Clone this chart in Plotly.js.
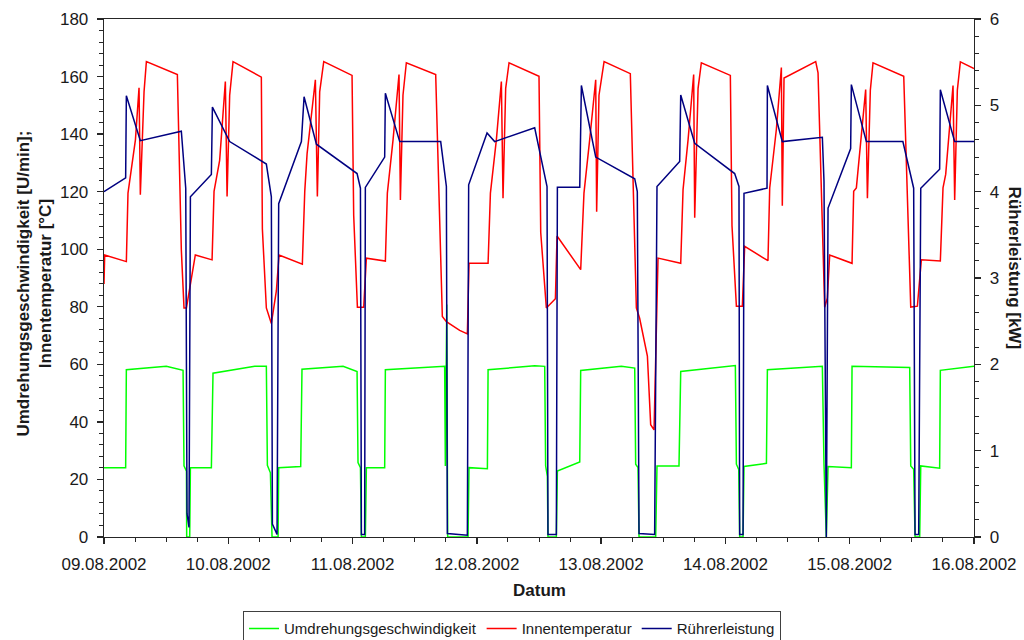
<!DOCTYPE html>
<html>
<head>
<meta charset="utf-8">
<script src="https://cdn.plot.ly/plotly-3.0.1.min.js"></script>
<style>html,body{margin:0;padding:0;background:#fff;}#chart{width:1024px;height:640px;}</style>
</head>
<body>
<div id="chart"></div>
<script>
// Umdrehungsgeschwindigkeit [U/min]
const zeitDrehzahl = [
"2002-08-09 00:00","2002-08-09 04:11","2002-08-09 04:19","2002-08-09 12:02","2002-08-09 15:16","2002-08-09 15:27","2002-08-09 15:55","2002-08-09 15:58","2002-08-09 16:33","2002-08-09 16:41","2002-08-09 20:44","2002-08-09 21:03",
"2002-08-10 05:06","2002-08-10 07:21","2002-08-10 07:33","2002-08-10 08:08","2002-08-10 08:27","2002-08-10 09:37","2002-08-10 09:44","2002-08-10 13:59","2002-08-10 14:14","2002-08-10 22:10",
"2002-08-11 00:52","2002-08-11 01:03","2002-08-11 01:31","2002-08-11 01:42","2002-08-11 02:28","2002-08-11 02:40","2002-08-11 06:12","2002-08-11 06:20","2002-08-11 17:47","2002-08-11 17:55","2002-08-11 18:11","2002-08-11 18:22","2002-08-11 22:18","2002-08-11 22:29",
"2002-08-12 02:02","2002-08-12 02:10","2002-08-12 11:10","2002-08-12 13:06","2002-08-12 13:17","2002-08-12 13:37","2002-08-12 13:44","2002-08-12 15:21","2002-08-12 15:33","2002-08-12 19:52","2002-08-12 20:03",
"2002-08-13 03:54","2002-08-13 06:29","2002-08-13 06:40","2002-08-13 07:07","2002-08-13 07:19","2002-08-13 10:32","2002-08-13 10:47","2002-08-13 15:02","2002-08-13 15:22",
"2002-08-14 01:55","2002-08-14 02:07","2002-08-14 02:34","2002-08-14 02:45","2002-08-14 03:24","2002-08-14 03:35","2002-08-14 07:55","2002-08-14 08:06","2002-08-14 18:43","2002-08-14 19:02","2002-08-14 19:29","2002-08-14 19:49",
"2002-08-15 00:19","2002-08-15 00:27","2002-08-15 11:35","2002-08-15 11:47","2002-08-15 12:21","2002-08-15 12:37","2002-08-15 13:31","2002-08-15 13:43","2002-08-15 17:22","2002-08-15 17:30",
"2002-08-16 00:00"];
const drehzahl = [
24.1,24.1,58.1,59.3,57.9,24.7,22.9,0,0,24.1,24.1,56.9,
59.3,59.3,24.9,22.3,0,0,24.1,24.5,58.3,59.3,
57.5,25.9,24.1,0,0,24.1,24.1,58.1,59.3,24.7,80.8,0,0,24.1,
23.7,58.1,59.5,59.3,24.7,21.1,0,0,22.9,26.1,57.9,
59.3,58.7,25.3,24.1,0,0,24.7,24.7,57.5,
59.6,25.3,23.5,0,0,24.5,25.6,58.1,59.3,25.3,0,24.5,
24.1,59.3,58.9,24.7,23.5,0,0,24.7,23.9,57.9,
59.3];

// Innentemperatur [°C]
const zeitTemperatur = [
"2002-08-09 00:00","2002-08-09 00:08","2002-08-09 04:19","2002-08-09 04:38","2002-08-09 06:04","2002-08-09 06:46","2002-08-09 07:01","2002-08-09 07:44","2002-08-09 08:11","2002-08-09 14:10","2002-08-09 14:56","2002-08-09 15:27","2002-08-09 15:55","2002-08-09 16:52","2002-08-09 17:38","2002-08-09 20:52","2002-08-09 21:15","2002-08-09 22:20","2002-08-09 23:26","2002-08-09 23:46",
"2002-08-10 00:16","2002-08-10 00:55","2002-08-10 06:23","2002-08-10 06:35","2002-08-10 07:21","2002-08-10 08:19","2002-08-10 09:17","2002-08-10 09:48","2002-08-10 14:18","2002-08-10 14:46","2002-08-10 15:13","2002-08-10 16:49","2002-08-10 17:12","2002-08-10 17:39","2002-08-10 18:26","2002-08-10 23:54",
"2002-08-11 00:13","2002-08-11 00:56","2002-08-11 02:09","2002-08-11 02:40","2002-08-11 06:20","2002-08-11 06:43","2002-08-11 07:49","2002-08-11 08:58","2002-08-11 09:14","2002-08-11 09:44","2002-08-11 10:23","2002-08-11 16:03","2002-08-11 17:20","2002-08-11 18:07","2002-08-11 20:41","2002-08-11 22:10","2002-08-11 22:29",
"2002-08-12 02:10","2002-08-12 02:37","2002-08-12 03:46","2002-08-12 04:44","2002-08-12 05:03","2002-08-12 05:34","2002-08-12 06:13","2002-08-12 12:00","2002-08-12 12:20","2002-08-12 13:25","2002-08-12 15:10","2002-08-12 15:29","2002-08-12 20:03","2002-08-12 20:41","2002-08-12 21:47","2002-08-12 22:57","2002-08-12 23:08","2002-08-12 23:35",
"2002-08-13 00:34","2002-08-13 05:38","2002-08-13 06:48","2002-08-13 07:26","2002-08-13 08:56","2002-08-13 09:34","2002-08-13 10:13","2002-08-13 10:59","2002-08-13 15:22","2002-08-13 15:49","2002-08-13 16:47","2002-08-13 17:52","2002-08-13 18:04","2002-08-13 18:43","2002-08-13 19:21",
"2002-08-14 00:57","2002-08-14 01:16","2002-08-14 02:07","2002-08-14 03:16","2002-08-14 03:43","2002-08-14 08:13","2002-08-14 08:33","2002-08-14 09:50","2002-08-14 10:48","2002-08-14 10:59","2002-08-14 11:19","2002-08-14 17:26","2002-08-14 17:53","2002-08-14 19:10","2002-08-14 19:41","2002-08-14 20:08",
"2002-08-15 00:27","2002-08-15 00:46","2002-08-15 01:17","2002-08-15 03:05","2002-08-15 03:25","2002-08-15 03:59","2002-08-15 04:30","2002-08-15 10:26","2002-08-15 11:47","2002-08-15 13:04","2002-08-15 13:50","2002-08-15 17:30","2002-08-15 18:01","2002-08-15 18:32","2002-08-15 19:57","2002-08-15 20:16","2002-08-15 20:47","2002-08-15 21:22",
"2002-08-16 00:00"];
const temperatur = [
87.9,98.0,95.7,119.5,138.0,156.1,118.9,154.7,165.2,160.7,99.8,79.6,79.6,89.1,98.0,96.3,120.1,130.9,158.3,118.3,
153.5,165.2,159.8,107.0,79.6,74.2,85.5,98.0,94.8,120.1,133.2,158.9,118.3,154.7,165.2,160.4,
111.8,79.8,79.8,96.9,95.9,119.5,138.0,160.7,117.1,153.5,164.8,160.7,76.6,74.8,71.8,70.6,95.1,
95.1,119.5,138.0,158.3,117.7,155.9,164.8,160.1,105.8,79.6,82.8,104.6,92.9,119.5,138.0,158.9,113.0,153.5,
165.2,161.0,79.6,76.0,62.9,39.0,37.2,96.9,95.1,120.7,138.0,160.7,110.9,155.9,164.8,
160.4,108.2,80.2,80.2,101.0,96.0,121.3,141.6,163.1,115.1,159.5,165.2,161.3,79.8,83.1,98.0,
95.1,120.1,121.3,155.5,117.7,155.3,164.8,160.1,79.9,80.2,96.3,95.9,121.3,126.0,156.9,117.1,155.3,165.1,
162.8];

// Rührerleistung [kW]
const zeitLeistung = [
"2002-08-09 00:00","2002-08-09 04:11","2002-08-09 04:19","2002-08-09 07:01","2002-08-09 14:56","2002-08-09 15:47","2002-08-09 16:02","2002-08-09 16:25","2002-08-09 16:41","2002-08-09 20:44","2002-08-09 20:56",
"2002-08-10 00:16","2002-08-10 07:21","2002-08-10 08:19","2002-08-10 08:31","2002-08-10 09:25","2002-08-10 09:44","2002-08-10 14:07","2002-08-10 14:38","2002-08-10 17:01",
"2002-08-11 00:52","2002-08-11 01:31","2002-08-11 01:42","2002-08-11 02:20","2002-08-11 02:28","2002-08-11 06:12","2002-08-11 06:20","2002-08-11 09:06","2002-08-11 17:01","2002-08-11 18:07","2002-08-11 18:18","2002-08-11 22:10","2002-08-11 22:25",
"2002-08-12 01:58","2002-08-12 03:26","2002-08-12 11:10","2002-08-12 13:33","2002-08-12 13:44","2002-08-12 15:21","2002-08-12 15:33","2002-08-12 19:52","2002-08-12 20:11","2002-08-12 22:57",
"2002-08-13 06:29","2002-08-13 06:59","2002-08-13 07:19","2002-08-13 10:20","2002-08-13 10:47","2002-08-13 15:10","2002-08-13 15:22","2002-08-13 18:04",
"2002-08-14 01:47","2002-08-14 02:37","2002-08-14 02:45","2002-08-14 03:24","2002-08-14 03:35","2002-08-14 08:02","2002-08-14 08:06","2002-08-14 10:59","2002-08-14 18:43","2002-08-14 19:02","2002-08-14 19:29","2002-08-14 19:49",
"2002-08-15 00:11","2002-08-15 00:19","2002-08-15 03:13","2002-08-15 10:16","2002-08-15 12:21","2002-08-15 12:37","2002-08-15 13:19","2002-08-15 13:43","2002-08-15 17:22","2002-08-15 17:30","2002-08-15 20:16",
"2002-08-16 00:00"];
const leistung = [
4.00,4.16,5.11,4.59,4.70,4.04,0.27,0.11,3.94,4.20,4.98,
4.58,4.32,3.94,0.15,0.03,3.86,4.58,5.10,4.55,
4.21,4.04,0.03,0.03,4.05,4.40,5.14,4.58,4.58,4.06,0.04,0.02,4.08,
4.68,4.58,4.74,4.06,0.03,0.03,4.05,4.05,5.23,4.40,
4.15,4.00,0.04,0.03,4.06,4.35,5.12,4.56,
4.21,4.06,0.03,0.03,3.98,4.04,5.23,4.58,4.63,4.12,0,3.81,
4.50,5.24,4.58,4.58,4.04,0.03,0.03,4.04,4.26,5.18,4.58,
4.58];

const serienNamen = ["Umdrehungsgeschwindigkeit","Innentemperatur","Rührerleistung"];
const serienFarben = ["#00ff00","#ff0000","#000080"];

const FONT = "Liberation Sans, Arial, Helvetica, sans-serif";
const AX = "#262626";

const traces = [
  {x: zeitDrehzahl, y: drehzahl, name: serienNamen[0], type: "scatter", mode: "lines",
   line: {color: serienFarben[0], width: 1.5}, yaxis: "y"},
  {x: zeitTemperatur, y: temperatur, name: serienNamen[1], type: "scatter", mode: "lines",
   line: {color: serienFarben[1], width: 1.5}, yaxis: "y"},
  {x: zeitLeistung, y: leistung, name: serienNamen[2], type: "scatter", mode: "lines",
   line: {color: serienFarben[2], width: 1.5}, yaxis: "y2"}
];

const layout = {
  width: 1024, height: 640,
  margin: {l: 104, r: 50, t: 19, b: 103, pad: 0, autoexpand: false},
  paper_bgcolor: "#ffffff", plot_bgcolor: "#ffffff",
  font: {family: FONT, size: 17, color: "#1a1a1a"},
  showlegend: true,
  legend: {orientation: "h", x: 0.469, xanchor: "center", y: -0.1435, yanchor: "top",
           bordercolor: "#404040", borderwidth: 1, bgcolor: "#ffffff",
           font: {family: FONT, size: 15, color: "#1a1a1a"}, itemwidth: 30, tracegroupgap: 0},
  xaxis: {type: "date", range: ["2002-08-09 00:00", "2002-08-16 00:00"],
          dtick: 86400000, tick0: "2002-08-09", tickformat: "%d.%m.%Y",
          showgrid: false, zeroline: false, showline: true, linecolor: AX, linewidth: 1.3, mirror: true,
          ticks: "outside", ticklen: 6, tickwidth: 1.3, tickcolor: AX, ticklabelstandoff: 5,
          minor: {dtick: 21600000, ticks: "outside", ticklen: 4, tickwidth: 1, tickcolor: AX, showgrid: false},
          tickfont: {family: FONT, size: 17, color: "#1a1a1a"}},
  yaxis: {range: [0, 180], dtick: 20, showgrid: false, zeroline: false,
          showline: true, linecolor: AX, linewidth: 1.3,
          ticks: "outside", ticklen: 6, tickwidth: 1.3, tickcolor: AX, ticklabelstandoff: 5,
          minor: {dtick: 4, ticks: "outside", ticklen: 4, tickwidth: 1, tickcolor: AX, showgrid: false},
          tickfont: {family: FONT, size: 17, color: "#1a1a1a"}},
  yaxis2: {range: [0, 6], dtick: 1, overlaying: "y", side: "right", showgrid: false, zeroline: false,
           showline: true, linecolor: AX, linewidth: 1.3,
           ticks: "outside", ticklen: 6, tickwidth: 1.3, tickcolor: AX, ticklabelstandoff: 5,
           minor: {dtick: 0.2, ticks: "outside", ticklen: 4, tickwidth: 1, tickcolor: AX, showgrid: false},
           tickfont: {family: FONT, size: 17, color: "#1a1a1a"}},
  annotations: [
    {text: "<b>Umdrehungsgeschwindigkeit [U/min];<br>Innentemperatur [°C]</b>", xref: "paper", yref: "paper",
     x: -0.08, y: 0.49, xanchor: "center", yanchor: "middle", textangle: -90, showarrow: false,
     font: {family: FONT, size: 17, color: "#1a1a1a"}},
    {text: "<b>Rührerleistung [kW]</b>", xref: "paper", yref: "paper",
     x: 1.046, y: 0.52, xanchor: "center", yanchor: "middle", textangle: 90, showarrow: false,
     font: {family: FONT, size: 17, color: "#1a1a1a"}},
    {text: "<b>Datum</b>", xref: "paper", yref: "paper",
     x: 0.501, y: -0.104, xanchor: "center", yanchor: "middle", showarrow: false,
     font: {family: FONT, size: 17, color: "#1a1a1a"}}
  ]
};

Plotly.newPlot("chart", traces, layout, {staticPlot: true, displayModeBar: false});
</script>
</body>
</html>
